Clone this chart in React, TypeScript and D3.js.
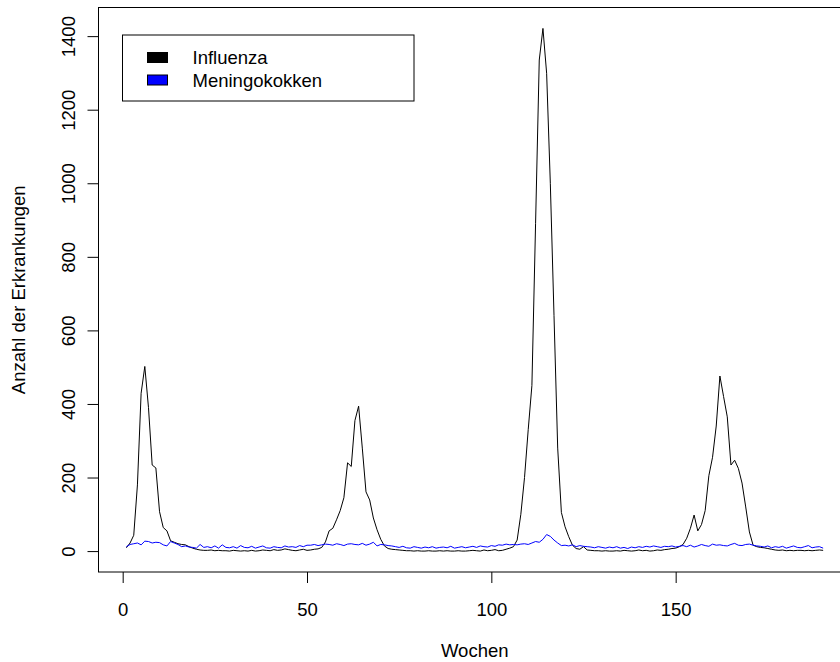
import React, { useEffect, useRef } from "react";
import * as d3 from "d3";

// weekly case counts (weeks 1..190)
const influenza = [
  9, 22, 43, 180, 429, 502, 390, 234, 226, 107, 64, 55, 28, 24, 20, 18, 17, 12, 8, 5,
  3, 2, 2, 3, 1, 2, 1, 1, 0, 2, 1, 0, 1, 0, 2, 0, 1, 3, 2, 1, 4, 2, 3, 6, 4, 2, 1, 3, 5, 2, 3, 5, 6,
  10, 25, 55, 62, 85, 110, 145, 240, 230, 355, 394, 280, 161, 139, 90, 58, 32, 14, 7, 5,
  4, 3, 2, 1, 1, 0, 1, 0, 0, 1, 0, 0, 1, 0, 1, 0, 0, 1, 0, 0, 1, 2, 1, 0, 3, 1, 2, 4, 1, 2, 5, 8,
  12, 30, 100, 200, 330, 450, 890, 1335, 1421, 1299, 1000, 640, 280, 105, 66, 39, 16, 7, 5, 12, 3,
  2, 1, 1, 0, 1, 0, 0, 1, 0, 2, 1, 0, 1, 3, 1, 2, 0, 1, 3, 2, 4, 5, 7, 8,
  12, 18, 35, 62, 98, 55, 72, 110, 205, 255, 340, 476, 420, 365, 234, 247, 225, 185, 120, 52, 16, 12,
  10, 9, 7, 5, 3, 2, 3, 1, 2, 1, 2, 2, 1, 2, 1, 2, 3, 2,
];

const meningokokken = [
  12, 18, 20, 22, 17, 27, 26, 22, 24, 23, 17, 14, 26, 22, 18,
  12, 14, 11, 10, 8, 18, 10, 12, 9, 14, 8, 17, 10, 9, 12, 8, 15, 10, 9, 13, 8, 11, 14, 9, 8,
  12, 10, 9, 14, 11, 12, 10, 15, 12, 16,
  16, 18, 15, 17, 19, 18, 16, 20, 18, 15, 19, 20, 18, 17, 21, 16, 19, 24, 14, 18, 17, 15,
  14, 12, 10, 13, 9, 8, 12, 10, 8, 11, 9, 12, 8, 10, 11, 9, 13, 8, 10, 12, 9, 11, 13, 10,
  14, 12, 11, 15, 13, 17, 16, 19, 17,
  18, 17, 19, 20, 18, 22, 26, 24, 32, 45, 40, 30, 22, 15, 16, 14, 17, 12, 15, 13,
  12, 11, 9, 12, 10, 8, 11, 9, 12, 8, 10, 7, 11, 9, 12, 10, 13, 11, 14, 12, 10, 13, 12, 14, 11,
  13, 15, 12, 16, 11, 14, 18, 15, 13, 19, 16, 17, 15, 14, 18, 21, 16, 15, 18, 19, 16, 14,
  13, 11, 14, 9, 12, 10, 13, 8, 11, 14, 10, 9, 12, 15, 9, 11, 12, 8,
];

const seriesNames = ["Influenza", "Meningokokken"];
const seriesColors = ["#000000", "#0000ff"];
const xTicks = [0, 50, 100, 150];
const yTicks = [0, 200, 400, 600, 800, 1000, 1200, 1400];

const FONT = "'Liberation Sans', Arial, Helvetica, sans-serif";
const FS = 18.5;

export default function App() {
  const ref = useRef<SVGSVGElement>(null);

  useEffect(() => {
    const svg = d3.select(ref.current);
    svg.selectAll("*").remove();

    const box = { left: 98.5, right: 851, top: 7.5, bottom: 572 };
    const weeks = influenza.map((_, i) => i + 1);

    // R style axis ranges: data range extended by 4% on each side
    const xExt = d3.extent(weeks) as [number, number];
    const xPad = (xExt[1] - xExt[0]) * 0.04;
    const x = d3.scaleLinear().domain([xExt[0] - xPad, xExt[1] + xPad]).range([box.left, box.right]);

    const yExt = d3.extent([...influenza, ...meningokokken]) as [number, number];
    const yPad = (yExt[1] - yExt[0]) * 0.04;
    const y = d3.scaleLinear().domain([yExt[0] - yPad, yExt[1] + yPad]).range([box.bottom, box.top]);

    const g = svg.append("g").attr("font-family", FONT);

    const line = d3.line<number>().x((_, i) => x(i + 1)).y(d => y(d));
    [influenza, meningokokken].forEach((s, k) => {
      g.append("path").datum(s).attr("d", line).attr("fill", "none")
        .attr("stroke", seriesColors[k]).attr("stroke-width", 1);
    });

    g.append("rect").attr("x", box.left).attr("y", box.top)
      .attr("width", box.right - box.left).attr("height", box.bottom - box.top)
      .attr("fill", "none").attr("stroke", "#000").attr("stroke-width", 1);

    // x axis
    const xAxis = g.append("g").attr("transform", `translate(0,${box.bottom})`)
      .call(d3.axisBottom(x).tickValues(xTicks).tickSize(11).tickFormat(d3.format("d")));
    xAxis.select(".domain").remove();
    xAxis.selectAll("line").attr("stroke", "#000");
    xAxis.selectAll("text").attr("y", 43.5).attr("dy", 0).attr("fill", "#000")
      .attr("font-size", FS).attr("font-family", FONT);

    // y axis, labels rotated like R's las = 0
    const yAxis = g.append("g").attr("transform", `translate(${box.left},0)`)
      .call(d3.axisLeft(y).tickValues(yTicks).tickSize(11).tickFormat(d3.format("d")));
    yAxis.select(".domain").remove();
    yAxis.selectAll("line").attr("stroke", "#000");
    yAxis.selectAll("text").attr("transform", "rotate(-90)").attr("x", 0).attr("y", -24)
      .attr("dy", 0).attr("text-anchor", "middle").attr("fill", "#000")
      .attr("font-size", FS).attr("font-family", FONT);

    g.append("text").text("Wochen").attr("x", (box.left + box.right) / 2).attr("y", 657)
      .attr("text-anchor", "middle").attr("font-size", FS);
    g.append("text").text("Anzahl der Erkrankungen")
      .attr("transform", `translate(24.5,${(box.top + box.bottom) / 2}) rotate(-90)`)
      .attr("text-anchor", "middle").attr("font-size", FS);

    // legend
    const lg = g.append("g").attr("transform", "translate(122.5,35)");
    lg.append("rect").attr("width", 291.5).attr("height", 66)
      .attr("fill", "#fff").attr("stroke", "#000").attr("stroke-width", 1);
    seriesNames.forEach((name, i) => {
      const cy = 22.5 + i * 22.5;
      lg.append("rect").attr("x", 25).attr("y", cy - 5).attr("width", 20).attr("height", 10)
        .attr("fill", seriesColors[i]).attr("stroke", "#000").attr("stroke-width", 1);
      lg.append("text").text(name).attr("x", 70).attr("y", cy + 6.5).attr("font-size", FS);
    });
  }, []);

  return (
    <svg ref={ref} width={840} height={662}
      style={{ position: "absolute", left: 0, top: 0, background: "#fff" }} />
  );
}
